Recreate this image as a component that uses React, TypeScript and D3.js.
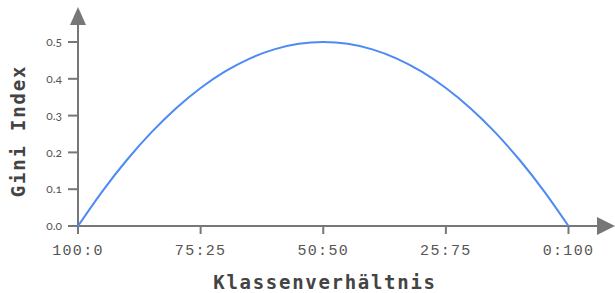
import React from "react";
import * as d3 from "d3";

const ratios = ["100:0", "75:25", "50:50", "25:75", "0:100"];
const share = [0, 0.05, 0.1, 0.15, 0.2, 0.25, 0.3, 0.35, 0.4, 0.45, 0.5, 0.55, 0.6, 0.65, 0.7, 0.75, 0.8, 0.85, 0.9, 0.95, 1];
const gini = [0, 0.095, 0.18, 0.255, 0.32, 0.375, 0.42, 0.455, 0.48, 0.495, 0.5, 0.495, 0.48, 0.455, 0.42, 0.375, 0.32, 0.255, 0.18, 0.095, 0];
const yTicks = [0, 0.1, 0.2, 0.3, 0.4, 0.5];

const W = 615, H = 293;
const AX = "#777777";
const TXT = "#555555";

export default function App() {
  const x = d3.scaleLinear().domain([0, 1]).range([78, 568.5]);
  const y = d3.scaleLinear().domain([0, 0.5]).range([226, 42]);
  const pts = share.map((s, i) => [s, gini[i]] as [number, number]);
  const line = d3.line<[number, number]>().x(d => x(d[0])).y(d => y(d[1])).curve(d3.curveMonotoneX);
  const x0 = x(0), y0 = y(0);
  return (
    <svg width={W} height={H} style={{ position: "fixed", left: 0, top: 0 }}>
      <rect width={W} height={H} fill="#fff" />
      <line x1={x0} x2={x0} y1={y0} y2={24} stroke={AX} strokeWidth={2} />
      <path d={`M${x0 - 8},25 L${x0 + 8},25 L${x0},7 Z`} fill={AX} />
      <line x1={x0} x2={598} y1={y0} y2={y0} stroke={AX} strokeWidth={2} />
      <path d={`M597,${y0 - 9} L597,${y0 + 9} L615,${y0} Z`} fill={AX} />
      {yTicks.map(t => (
        <g key={t}>
          <line x1={x0 - 10} x2={x0} y1={y(t)} y2={y(t)} stroke={AX} strokeWidth={2} />
          <text x={62} y={y(t)} dy="0.35em" textAnchor="end" fontFamily="Lato" fontSize={12}
            fill={TXT} style={{ fontVariantNumeric: "oldstyle-nums" }}>{d3.format(".1f")(t)}</text>
        </g>
      ))}
      {ratios.map((r, i) => {
        const xv = x(i / (ratios.length - 1));
        return (
          <g key={r}>
            <line x1={xv} x2={xv} y1={y0} y2={y0 + 8} stroke={AX} strokeWidth={2} />
            <text x={xv} y={255} textAnchor="middle" fontFamily="Liberation Mono" fontSize={15}
              letterSpacing={1.3} fill={TXT}>{r}</text>
          </g>
        );
      })}
      <path d={line(pts) || ""} fill="none" stroke="#4d8af5" strokeWidth={2} />
      <text x={325} y={289} textAnchor="middle" fontFamily="DejaVu Sans Mono" fontWeight="bold"
        fontSize={19} letterSpacing={1.7} fill="#444">Klassenverhältnis</text>
      <text transform="translate(25,131) rotate(-90)" textAnchor="middle" fontFamily="DejaVu Sans Mono"
        fontWeight="bold" fontSize={19} letterSpacing={1.8} fill="#444">Gini Index</text>
    </svg>
  );
}
